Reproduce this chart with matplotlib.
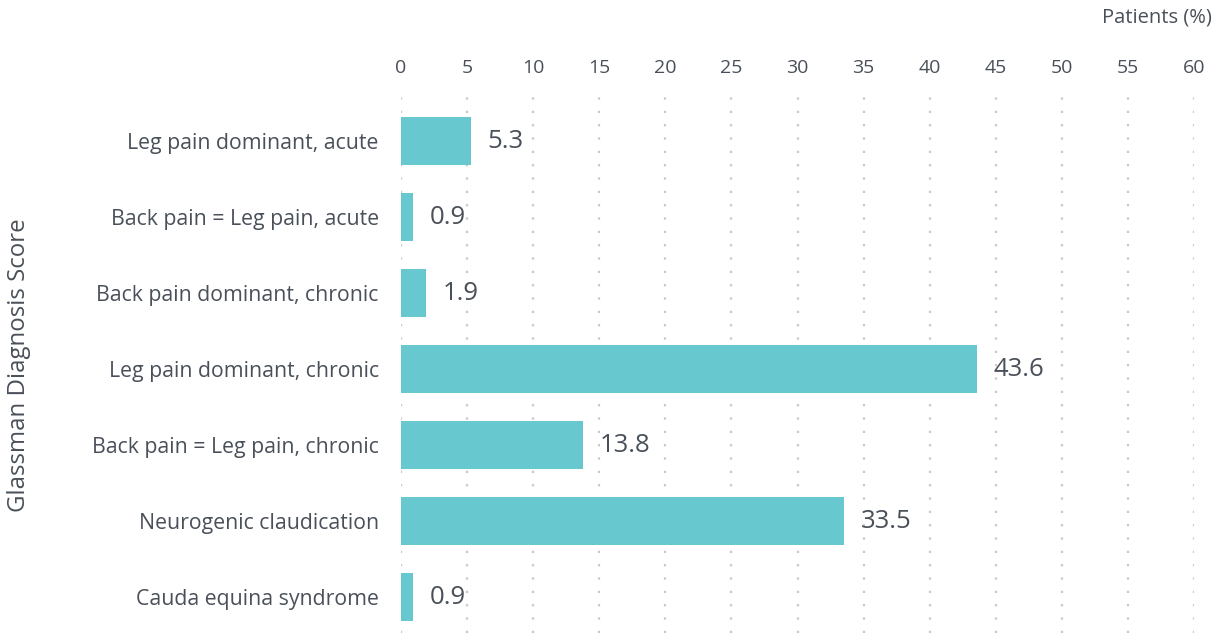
import numpy as np
import matplotlib
matplotlib.use('Agg')
import matplotlib.pyplot as plt

#-- chart data
categories = ['Leg pain dominant, acute', 'Back pain = Leg pain, acute',
    'Back pain dominant, chronic', 'Leg pain dominant, chronic',
    'Back pain = Leg pain, chronic', 'Neurogenic claudication',
    'Cauda equina syndrome']
patients_pct = [5.3, 0.9, 1.9, 43.6, 13.8, 33.5, 0.9]
x_ticks = [0, 5, 10, 15, 20, 25, 30, 35, 40, 45, 50, 55, 60]

bar_color = '#68c8d0'
text_color = '#4a5059'
plt.rcParams['font.family'] = ['Open Sans', 'DejaVu Sans']

fig = plt.figure(figsize=(12.22, 6.33), dpi=100)
ax = fig.add_axes([401/1222., 0., (1194-401)/1222., 1-95/633.])

y = np.arange(len(categories))
ax.barh(y, patients_pct, height=0.63, color=bar_color, zorder=2)
for yi, v in zip(y, patients_pct):
    ax.annotate('%.1f' % v, xy=(v, yi), xytext=(12, 0), textcoords='offset points',
        ha='left', va='center', fontsize=18.5, color=text_color)

ax.set_xlim(0, 60)
ax.set_ylim(6 + 36/76., -46/76.)
ax.set_yticks(y)
ax.set_yticklabels(categories, fontsize=15.3, color=text_color)
ax.set_xticks(x_ticks)
ax.set_xticklabels([str(t) for t in x_ticks], fontsize=14, color=text_color)
ax.xaxis.tick_top()
ax.tick_params(axis='x', length=0, pad=13)
ax.tick_params(axis='y', length=0, pad=16)
for s in ax.spines.values():
    s.set_visible(False)
ax.grid(axis='x', color='#c8c8c8', linestyle=(0, (1, 5)), linewidth=1.6, zorder=0)
ax.grid(axis='y', visible=False)

fig.text(1212/1222., 1-18/633., 'Patients (%)', ha='right', va='center',
    fontsize=14.5, color=text_color)
fig.text(19/1222., 1-365/633., 'Glassman Diagnosis Score', ha='center', va='center',
    rotation=90, fontsize=17.3, color=text_color)

fig.savefig('out.png', dpi=100)
